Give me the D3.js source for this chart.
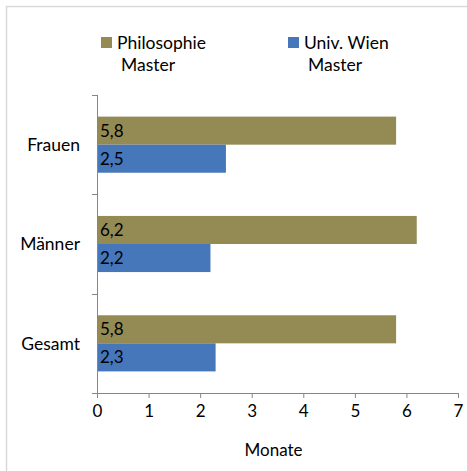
<!DOCTYPE html>
<html>
<head>
<meta charset="utf-8">
<script src="https://cdn.jsdelivr.net/npm/d3@7"></script>
<style>
  body { margin: 0; background: #fff; }
  svg text { font-family: Lato, "Liberation Sans", sans-serif; fill: #000; }
</style>
</head>
<body>
<svg id="chart"></svg>
<script>
var categories = ["Frauen", "Männer", "Gesamt"]
var seriesNames = ["Philosophie Master", "Univ. Wien Master"]
var philosophie = [5.8, 6.2, 5.8]
var univWien = [2.5, 2.2, 2.3]
var xTicks = [0, 1, 2, 3, 4, 5, 6, 7]
var axisTitle = "Monate"

var colors = {"Philosophie Master": "#948A54", "Univ. Wien Master": "#4677BA"}

var screen = {width: 467, height: 471}
var margins = {top: 95, bottom: 78, left: 97, right: 9}
var graph = {
  width: screen.width - margins.left - margins.right,
  height: screen.height - margins.top - margins.bottom
}

var svg = d3.select("#chart")
  .attr("width", screen.width)
  .attr("height", screen.height)

// outer frame (right / bottom edges fall outside the picture)
svg.append("rect")
  .attr("x", 6.5).attr("y", 6.5)
  .attr("width", 480).attr("height", 490)
  .attr("fill", "none")
  .attr("stroke", "#d9d9d9")
  .attr("stroke-width", 1.5)

var rows = categories.map(function(c, i) {
  return {cat: c, values: [
    {name: seriesNames[0], value: philosophie[i]},
    {name: seriesNames[1], value: univWien[i]}
  ]}
})

var xScale = d3.scaleLinear().domain([0, 7]).range([0, graph.width])
var yScale = d3.scaleBand().domain(categories).range([0, graph.height])
var subScale = d3.scaleBand().domain(seriesNames)
  .range([0, yScale.bandwidth()]).paddingInner(0).paddingOuter(0.77)

var g = svg.append("g")
  .attr("transform", "translate(" + margins.left + "," + margins.top + ")")

var groups = g.selectAll(".row")
  .data(rows)
  .enter()
  .append("g")
  .classed("row", true)
  .attr("transform", function(d) { return "translate(0," + yScale(d.cat) + ")" })

groups.selectAll("rect")
  .data(function(d) { return d.values })
  .enter()
  .append("rect")
  .attr("x", 0)
  .attr("y", function(d) { return subScale(d.name) })
  .attr("width", function(d) { return xScale(d.value) })
  .attr("height", subScale.bandwidth())
  .attr("fill", function(d) { return colors[d.name] })

groups.selectAll(".val")
  .data(function(d) { return d.values })
  .enter()
  .append("text")
  .classed("val", true)
  .attr("x", 3)
  .attr("y", function(d) { return subScale(d.name) + subScale.bandwidth() / 2 })
  .attr("dy", "0.36em")
  .style("font-size", "17px")
  .text(function(d) { return String(d.value).replace(".", ",") })

// x axis
var xAxis = d3.axisBottom(xScale).tickValues(xTicks).tickSize(5).tickSizeOuter(0)
  .tickFormat(function(d) { return d })
var xg = g.append("g")
  .attr("transform", "translate(0," + graph.height + ")")
  .call(xAxis)
xg.select(".domain").attr("stroke", "#868686")
xg.selectAll(".tick line").attr("stroke", "#868686")
xg.selectAll(".tick text")
  .attr("y", 12)
  .style("font-size", "17px")
  .style("font-family", "Lato, sans-serif")
  .attr("fill", "#000")

// y axis: line plus ticks at band boundaries
var bounds = categories.map(function(c) { return yScale(c) }).concat([yScale.range()[1]])
g.append("line")
  .attr("x1", 0.5).attr("x2", 0.5)
  .attr("y1", 0).attr("y2", graph.height)
  .attr("stroke", "#868686")
g.selectAll(".ytick")
  .data(bounds)
  .enter()
  .append("line")
  .classed("ytick", true)
  .attr("x1", -5).attr("x2", 0)
  .attr("y1", function(d) { return Math.round(d) + 0.5 })
  .attr("y2", function(d) { return Math.round(d) + 0.5 })
  .attr("stroke", "#868686")

g.selectAll(".cat")
  .data(categories)
  .enter()
  .append("text")
  .classed("cat", true)
  .attr("x", -17)
  .attr("y", function(d) { return yScale(d) + yScale.bandwidth() / 2 })
  .attr("dy", "0.36em")
  .attr("text-anchor", "end")
  .style("font-size", "17.5px")
  .text(function(d) { return d })

// axis title
svg.append("text")
  .attr("x", margins.left + graph.width / 2 - 4)
  .attr("y", 456)
  .attr("text-anchor", "middle")
  .style("font-size", "17px")
  .text(axisTitle)

// legend
var legendX = [101, 288]
var legend = svg.selectAll(".legend")
  .data(seriesNames)
  .enter()
  .append("g")
  .classed("legend", true)
  .attr("transform", function(d, i) { return "translate(" + legendX[i] + ",37)" })
legend.append("rect")
  .attr("width", 11).attr("height", 11)
  .attr("fill", function(d) { return colors[d] })
legend.append("text")
  .attr("x", 16).attr("y", 12)
  .style("font-size", "17.5px")
  .text(function(d) { return d.replace(" Master", "") })
legend.append("text")
  .attr("x", 20).attr("y", 34)
  .style("font-size", "17.5px")
  .text("Master")
</script>
</body>
</html>
